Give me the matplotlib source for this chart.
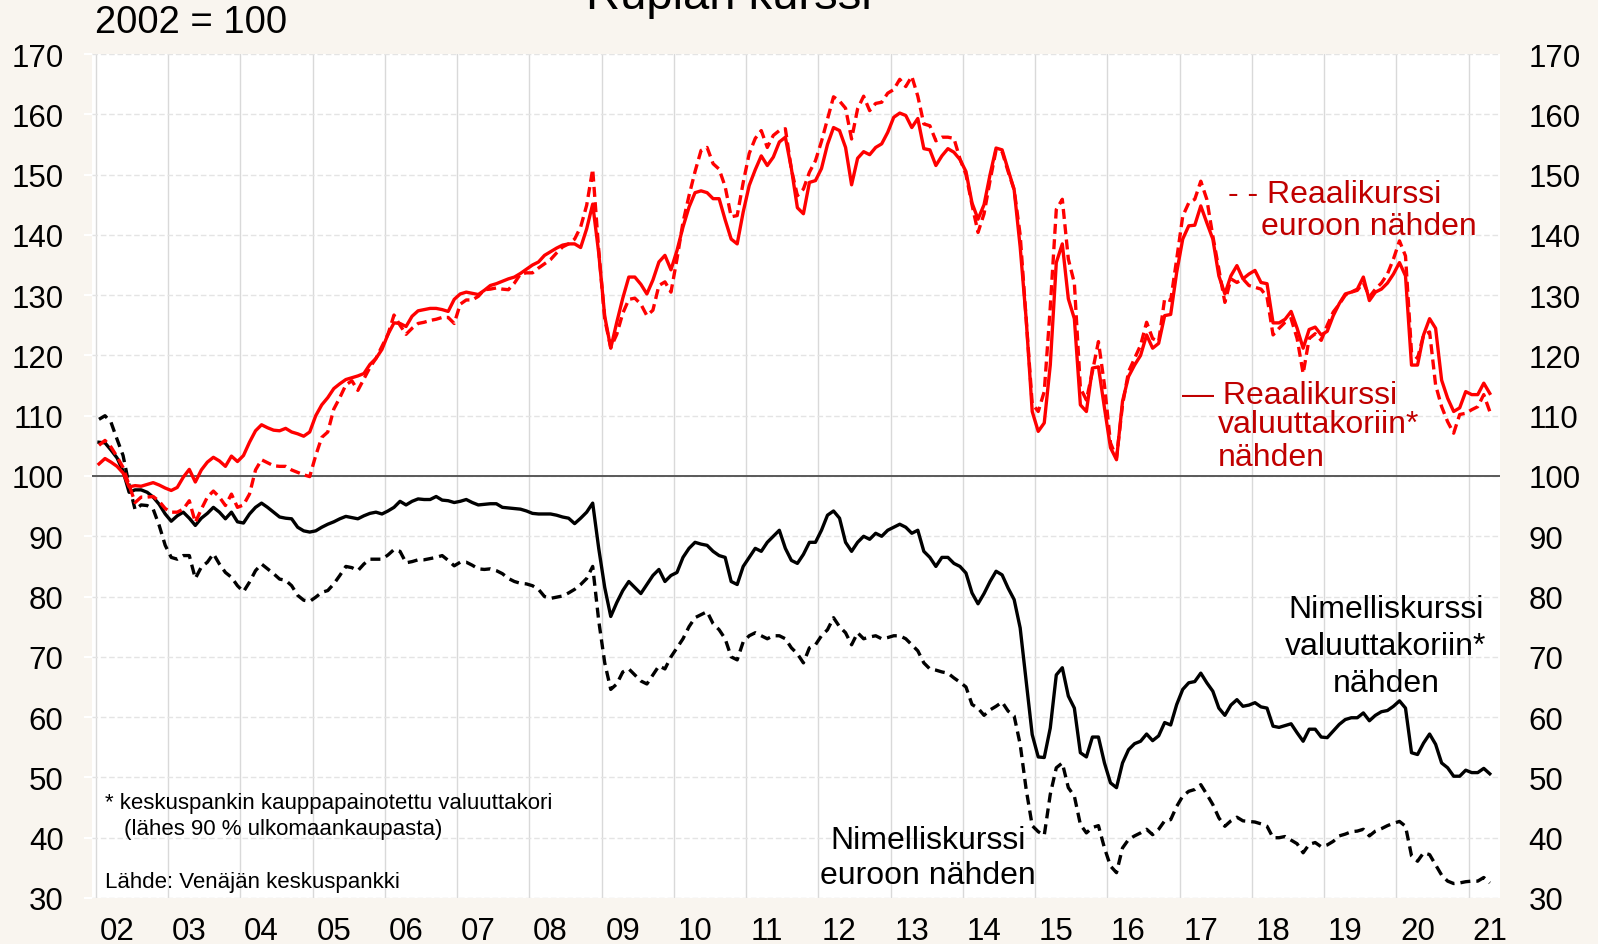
import numpy as np
import matplotlib.pyplot as plt

plt.rcParams['font.family'] = ['Liberation Sans', 'DejaVu Sans']

# Monthly indices, Jan 2002 - Apr 2021, 2002 = 100
real_basket = [
    102.0, 102.9, 102.3, 101.6, 100.5, 98.2, 98.4, 98.3, 98.6, 98.9, 98.5, 98.0,      # 2002
    97.6, 98.1, 99.8, 101.1, 99.0, 101.0, 102.3, 103.1, 102.5, 101.6, 103.3, 102.4,   # 2003
    103.4, 105.6, 107.5, 108.5, 108.0, 107.6, 107.5, 107.9, 107.3, 107.0, 106.6, 107.3,
    110.0, 111.8, 113.0, 114.5, 115.3, 116.0, 116.3, 116.6, 117.0, 118.5, 119.5, 121.0,
    123.5, 125.4, 125.3, 124.8, 126.5, 127.4, 127.6, 127.8, 127.8, 127.6, 127.3, 129.3,
    130.2, 130.5, 130.3, 130.1, 130.8, 131.6, 131.9, 132.3, 132.7, 133.0, 133.6, 134.3,
    135.0, 135.5, 136.6, 137.2, 137.8, 138.3, 138.5, 138.5, 137.9, 141.0, 145.1, 137.0,
    126.5, 121.2, 125.5, 129.5, 133.0, 133.0, 131.8, 130.2, 132.5, 135.5, 136.6, 134.2,
    137.4, 141.3, 144.6, 147.0, 147.3, 147.0, 146.0, 146.0, 142.5, 139.3, 138.5, 143.8,
    148.2, 150.8, 153.1, 151.5, 152.9, 155.4, 156.2, 151.0, 144.5, 143.5, 148.7, 149.0,
    151.0, 155.0, 157.8, 157.3, 154.5, 148.3, 152.7, 153.8, 153.3, 154.5, 155.1, 157.0,
    159.5, 160.2, 159.8, 157.8, 159.3, 154.3, 154.1, 151.5, 153.1, 154.3, 153.7, 152.5,
    150.5, 145.3, 142.6, 145.0, 150.0, 154.4, 154.1, 150.8, 147.5, 138.0, 126.0, 110.7,
    107.4, 108.8, 118.4, 135.4, 138.5, 129.4, 126.1, 111.8, 110.7, 117.9, 118.1, 111.3,
    104.7, 102.7, 112.4, 116.5, 118.4, 120.0, 123.4, 121.2, 122.0, 126.6, 126.8, 133.8,
    139.3, 141.5, 141.6, 144.8, 142.0, 139.3, 133.2, 130.2, 133.2, 134.9, 132.7, 133.5,
    134.1, 132.1, 131.9, 125.4, 125.4, 126.0, 127.3, 124.5, 121.2, 124.3, 124.7, 123.4,
    124.0, 126.6, 128.6, 130.2, 130.5, 131.0, 133.0, 129.1, 130.5, 131.0, 132.0, 133.5,
    135.4, 133.2, 118.4, 118.4, 123.4, 126.1, 124.5, 115.9, 112.9, 110.7, 111.3, 114.0,
    113.5, 113.5, 115.4, 113.7,                                                         # 2021
]

real_euro = [
    105.1, 105.9, 104.8, 103.2, 101.4, 98.5, 95.6, 96.5, 96.5, 96.6, 95.8, 94.6,
    94.0, 94.0, 94.5, 95.9, 92.3, 94.5, 96.5, 97.5, 96.5, 95.1, 97.0, 94.8,
    95.2, 97.0, 101.0, 102.7, 102.2, 101.7, 101.6, 101.6, 101.0, 100.6, 100.2, 99.9,
    103.4, 106.4, 107.3, 111.1, 113.0, 115.1, 115.8, 114.2, 116.1, 118.0, 119.5, 121.5,
    123.5, 126.7, 125.0, 123.5, 124.5, 125.3, 125.5, 125.8, 126.0, 126.3, 126.3, 125.3,
    128.5, 129.2, 129.2, 129.8, 130.9, 131.0, 131.2, 131.0, 130.9, 132.0, 133.5, 133.7,
    133.7, 134.5, 135.2, 135.9, 137.0, 138.0, 138.5, 139.3, 141.3, 144.9, 150.9, 137.5,
    126.0, 121.3, 123.5, 127.0, 129.3, 129.5, 128.5, 126.6, 127.5, 131.6, 132.2, 130.5,
    136.0, 142.1, 146.5, 150.5, 154.0, 154.5, 151.8, 150.9, 148.0, 143.0, 143.2, 148.7,
    153.5, 156.0, 157.3, 154.5, 156.5, 157.3, 157.6, 150.9, 146.5, 147.6, 150.4, 152.3,
    155.5, 159.2, 162.9, 162.2, 161.0, 155.9, 160.9, 163.0, 160.6, 161.8, 162.0, 163.5,
    164.1, 165.8, 164.6, 166.3, 163.0, 158.4, 158.1, 155.6, 156.2, 156.2, 156.0, 152.6,
    150.0, 145.0, 140.4, 143.5, 149.0, 154.1, 153.8, 150.5, 147.5, 140.0, 126.0, 112.0,
    110.7, 114.0, 128.0, 144.2, 145.9, 136.0, 132.0, 114.6, 112.6, 117.3, 122.3, 115.1,
    105.5, 103.0, 111.8, 117.3, 119.5, 121.7, 125.5, 122.8, 122.3, 129.4, 129.1, 136.0,
    143.1, 145.3, 145.9, 148.9, 145.9, 139.8, 134.3, 128.8, 132.7, 132.1, 132.7, 131.6,
    131.3, 131.0, 129.7, 123.4, 124.5, 125.5, 126.1, 122.8, 117.0, 122.8, 123.6, 122.5,
    125.0, 127.2, 128.5, 130.0, 130.5, 130.8, 132.1, 129.7, 131.0, 132.0, 133.5, 136.0,
    139.0, 136.5, 120.5, 119.5, 123.4, 123.9, 115.1, 111.5, 109.0, 107.1, 110.2, 110.4,
    111.0, 111.5, 113.5, 110.7,
]

nominal_basket = [
    105.6, 105.5, 104.3, 103.0, 100.8, 97.3, 97.7, 97.7, 97.3, 96.5, 95.3, 93.7,
    92.5, 93.4, 94.0, 93.0, 91.8, 93.0, 93.8, 94.8, 94.0, 92.9, 94.0, 92.4,
    92.2, 93.7, 94.8, 95.5, 94.8, 94.0, 93.2, 93.0, 92.9, 91.5, 90.9, 90.7,
    90.9, 91.5, 92.0, 92.4, 92.9, 93.3, 93.1, 92.9, 93.4, 93.8, 94.0, 93.7,
    94.2, 94.8, 95.8, 95.2, 95.8, 96.2, 96.1, 96.1, 96.6, 96.0, 95.9, 95.6,
    95.8, 96.1, 95.6, 95.2, 95.3, 95.4, 95.4, 94.8, 94.7, 94.6, 94.5, 94.2,
    93.8, 93.7, 93.7, 93.7, 93.5, 93.2, 93.0, 92.1, 93.0, 94.0, 95.5, 88.0,
    81.5, 76.7, 79.0, 81.0, 82.5, 81.5, 80.5, 82.0, 83.5, 84.5, 82.5, 83.5,
    84.0, 86.5, 88.0, 89.0, 88.7, 88.5, 87.5, 86.8, 86.5, 82.5, 82.0, 85.0,
    86.5, 88.0, 87.5, 89.0, 90.0, 91.0, 88.0, 86.0, 85.5, 87.0, 89.0, 89.0,
    91.0, 93.5, 94.2, 93.0, 89.0, 87.5, 89.0, 90.0, 89.5, 90.5, 90.0, 91.0,
    91.5, 92.0, 91.5, 90.5, 91.0, 87.5, 86.5, 85.0, 86.5, 86.5, 85.5, 85.0,
    83.9, 80.6, 78.8, 80.5, 82.5, 84.2, 83.6, 81.4, 79.5, 74.8, 66.0, 57.1,
    53.4, 53.3, 58.2, 67.0, 68.2, 63.5, 61.5, 54.1, 53.4, 56.7, 56.7, 52.4,
    49.1, 48.3, 52.4, 54.6, 55.6, 56.0, 57.2, 56.1, 56.9, 59.1, 58.7, 62.1,
    64.6, 65.7, 65.9, 67.3, 65.7, 64.3, 61.5, 60.3, 62.0, 62.9, 61.8, 62.0,
    62.4, 61.7, 61.5, 58.5, 58.3, 58.6, 58.9, 57.4, 56.0, 58.0, 58.0, 56.7,
    56.6, 57.7, 58.8, 59.6, 59.9, 59.9, 60.7, 59.4, 60.3, 60.9, 61.1, 61.8,
    62.7, 61.5, 54.1, 53.8, 55.7, 57.2, 55.5, 52.4, 51.6, 50.2, 50.2, 51.2,
    50.8, 50.8, 51.5, 50.6,
]

nominal_euro = [
    109.4, 110.0, 108.9, 106.1, 103.4, 98.5, 94.4, 95.2, 95.1, 94.5, 91.8, 88.5,
    86.5, 86.2, 86.8, 86.8, 83.0, 84.9, 85.7, 87.1, 85.4, 84.0, 83.2, 81.8,
    80.8, 82.4, 84.3, 85.4, 84.6, 83.8, 82.9, 82.7, 81.8, 80.2, 79.4, 79.2,
    79.9, 80.7, 81.0, 82.1, 83.5, 85.0, 84.8, 84.3, 85.4, 86.2, 86.2, 86.2,
    86.9, 87.8, 87.5, 85.6, 85.8, 86.1, 86.1, 86.3, 86.5, 86.8, 86.0, 85.1,
    85.7, 85.7, 85.2, 84.6, 84.5, 84.6, 84.3, 83.8, 83.0, 82.5, 82.2, 82.1,
    81.8, 81.2, 80.0, 79.7, 79.9, 80.1, 80.6, 81.2, 82.0, 83.0, 85.0, 76.0,
    69.0, 64.6, 65.5, 67.5, 68.0, 67.0, 66.0, 65.5, 67.0, 68.5, 68.0, 70.0,
    71.5, 73.0, 75.0, 76.5, 77.0, 77.5, 75.5, 74.5, 73.0, 70.0, 69.5, 72.5,
    73.5, 74.0, 73.5, 73.0, 73.5, 73.5, 73.0, 71.5, 70.5, 69.0, 71.5, 72.0,
    73.5, 74.5, 76.5, 75.0, 74.0, 72.0, 74.0, 73.0, 73.3, 73.5, 73.0, 73.2,
    73.5, 73.5, 73.0, 72.0, 71.0, 69.0, 68.0, 67.8, 67.5, 67.3, 66.5, 65.8,
    65.0, 62.1, 61.5, 60.3, 61.2, 61.8, 62.5, 61.0, 60.2, 55.5, 48.0, 42.0,
    41.0, 40.4, 47.2, 51.6, 52.4, 48.3, 46.9, 42.2, 40.8, 41.7, 42.0, 38.3,
    35.3, 34.2, 38.3, 39.7, 40.3, 40.8, 41.4, 40.5, 41.4, 42.8, 43.0, 45.2,
    46.9, 47.7, 48.0, 48.8, 47.2, 45.5, 43.3, 41.9, 42.8, 43.4, 42.8, 42.7,
    42.6, 42.3, 41.9, 40.0, 40.0, 40.2, 39.6, 39.0, 37.5, 38.9, 39.2, 38.5,
    38.8, 39.4, 40.3, 40.6, 41.0, 41.1, 41.4, 40.3, 41.1, 41.5, 42.0, 42.4,
    42.7, 41.9, 37.0, 36.1, 37.5, 37.2, 35.5, 33.8, 32.8, 32.4, 32.5, 32.7,
    32.8, 32.8, 33.4, 32.5,
]

years = list(range(2002, 2022))
year_labels = ['%02d' % (y % 100) for y in years]
y_ticks = list(range(30, 171, 10))

# month midpoints as decimal years
t = 2002 + (np.arange(len(real_basket)) + 0.5) / 12

RED = '#ff0000'
DARKRED = '#c00000'

fig = plt.figure(figsize=(15.98, 9.45), dpi=100, facecolor='#f9f5ef')
ax = fig.add_axes([92 / 1598, 1 - 899 / 945, 1408 / 1598, 844 / 945])
ax.set_facecolor('white')

ax.plot(t, nominal_euro, color='black', lw=2.4, dashes=(3, 1.8), zorder=3)
ax.plot(t, nominal_basket, color='black', lw=2.4, zorder=4)
ax.plot(t, real_euro, color=RED, lw=2.4, dashes=(3, 1.6), zorder=5)
ax.plot(t, real_basket, color=RED, lw=2.4, zorder=6)
ax.axhline(100, color='#595959', lw=1.4, zorder=2)

ax.set_xlim(2001.945, 2021.433)
ax.set_ylim(30, 170)

# year boundaries for the gridlines, labels sit a bit into each year
ax.set_xticks(years)
ax.set_xticks([y + 0.29 for y in years], minor=True)
ax.set_xticklabels([])
ax.set_xticklabels(year_labels, minor=True)
ax.tick_params(axis='x', which='both', length=0)
ax.tick_params(axis='x', which='minor', labelsize=22.5, pad=13)

ax.set_yticks(y_ticks)
ax.tick_params(axis='y', labelsize=22.5, left=True, right=False,
               labelleft=True, labelright=True, length=6, width=1.5,
               color='white', pad=14.5, direction='out')

ax.grid(axis='x', which='major', color='#d9d9d9', lw=1.0, zorder=0)
ax.grid(axis='y', color='#e4e4e4', lw=1.0, ls=(0, (4, 2)), zorder=0)
for s in ax.spines.values():
    s.set_visible(False)

txt = dict(fontsize=23, va='center')
ax.text(2017.67, 146.8, '- - Reaalikurssi', color=DARKRED, ha='left', **txt)
ax.text(2018.12, 141.5, 'euroon nähden', color=DARKRED, ha='left', **txt)
ax.text(2017.03, 113.5, '— Reaalikurssi', color=DARKRED, ha='left', **txt)
ax.text(2017.53, 108.7, 'valuuttakoriin*', color=DARKRED, ha='left', **txt)
ax.text(2017.53, 103.1, 'nähden', color=DARKRED, ha='left', **txt)

ax.text(2019.855, 78.0, 'Nimelliskurssi', color='black', ha='center', **txt)
ax.text(2019.855, 71.8, 'valuuttakoriin*', color='black', ha='center', **txt)
ax.text(2019.855, 65.7, 'nähden', color='black', ha='center', **txt)

ax.text(2013.52, 39.6, 'Nimelliskurssi', color='black', ha='center', **txt)
ax.text(2013.52, 33.8, 'euroon nähden', color='black', ha='center', **txt)

note = dict(fontsize=16, va='center', ha='left', color='black')
ax.text(2002.125, 45.85, '* keskuspankin kauppapainotettu valuuttakori', **note)
ax.text(2002.39, 41.45, '(lähes 90 % ulkomaankaupasta)', **note)
ax.text(2002.125, 32.7, 'Lähde: Venäjän keskuspankki', **note)

fig.text(95 / 1598, 1 - 23 / 945, '2002 = 100', fontsize=27.5, va='center', ha='left')
fig.text(729 / 1598, 1 - 9 / 945, 'Ruplan kurssi', fontsize=34, va='baseline', ha='center')

fig.savefig('out.png', dpi=100, facecolor=fig.get_facecolor())
